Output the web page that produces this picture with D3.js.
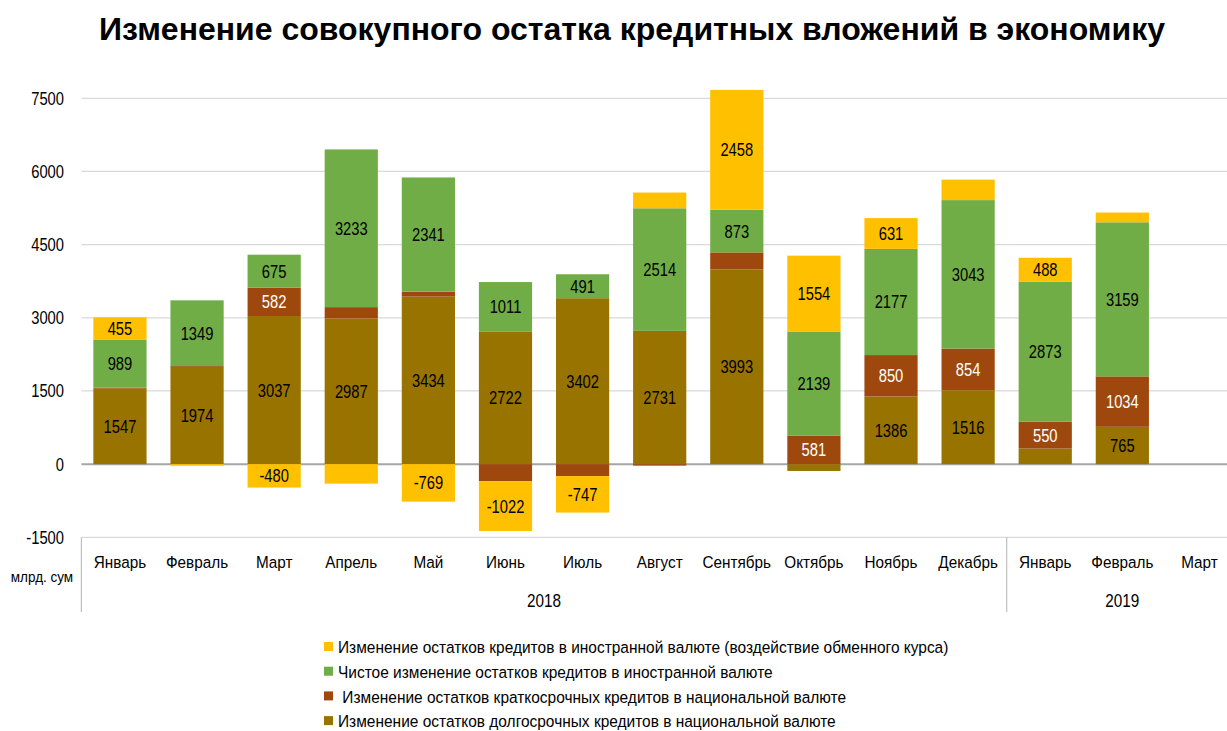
<!DOCTYPE html>
<html>
<head>
<meta charset="utf-8">
<script src="https://cdn.jsdelivr.net/npm/d3@7"></script>
<style>
  body { margin: 0; background: #fff; }
  svg text { font-family: "Liberation Sans", Arial, sans-serif; }
  .title { font-weight: bold; }
</style>
</head>
<body>
<svg id="chart" width="1227" height="731"></svg>
<script>
// months along the category axis
const months = ["Январь", "Февраль", "Март", "Апрель", "Май", "Июнь", "Июль", "Август",
  "Сентябрь", "Октябрь", "Ноябрь", "Декабрь", "Январь", "Февраль", "Март"];
const years = [{ label: "2018", from: 0, to: 12 }, { label: "2019", from: 12, to: 15 }];

// series values, bottom of the stack first
const longTerm  = [1547, 1974, 3037, 2987, 3434, 2722, 3402, 2731, 3993, -140, 1386, 1516, 320, 765, 0];
const shortTerm = [20, 35, 582, 232, 102, -348, -246, -30, 348, 581, 850, 854, 550, 1034, 0];
const netForeign = [989, 1349, 675, 3233, 2341, 1011, 491, 2514, 873, 2139, 2177, 3043, 2873, 3159, 0];
const exchangeEffect = [455, -30, -480, -400, -769, -1022, -747, 323, 2458, 1554, 631, 420, 488, 200, 0];

const yTicks = [-1500, 0, 1500, 3000, 4500, 6000, 7500];

const seriesNames = [
  "Изменение остатков долгосрочных кредитов в национальной валюте",
  " Изменение остатков краткосрочных кредитов в национальной валюте",
  "Чистое изменение остатков кредитов в иностранной валюте",
  "Изменение остатков кредитов в иностранной валюте (воздействие обменного курса)"
];
const seriesColors = ["#997300", "#9e480e", "#70ad47", "#ffc000"];
const labelColors = ["#000", "#fff", "#000", "#000"];

const svg = d3.select("#chart");

const x = d3.scaleBand().domain(d3.range(months.length)).range([81.4, 1238]).paddingInner(0.31).paddingOuter(0.155);
const y = d3.scaleLinear().domain([-1500, 7500]).range([537.3, 98.3]);

// no narrow font is installed, so squeeze the text horizontally
const place = (px, py, sx) => `translate(${px},${py}) scale(${sx},1)`;

// title
svg.append("text")
  .attr("class", "title")
  .attr("x", 632).attr("y", 40)
  .attr("text-anchor", "middle")
  .style("font-size", "32px")
  .text("Изменение совокупного остатка кредитных вложений в экономику");

// gridlines
svg.append("g").selectAll("line")
  .data(yTicks)
  .join("line")
  .attr("x1", 81.4).attr("x2", 1227)
  .attr("y1", d => y(d)).attr("y2", d => y(d))
  .attr("stroke", d => d === 0 ? "#a6a6a6" : "#d9d9d9")
  .attr("stroke-width", d => d === 0 ? 2 : 1.2);

// y tick labels
svg.append("g").selectAll("text")
  .data(yTicks)
  .join("text")
  .attr("transform", d => place(64, y(d), 0.82))
  .attr("dy", "0.36em")
  .attr("text-anchor", "end")
  .style("font-size", "18px")
  .attr("fill", "#000")
  .text(d => d);

svg.append("text")
  .attr("transform", place(42, 577, 0.9))
  .attr("dy", "0.36em")
  .attr("text-anchor", "middle")
  .style("font-size", "15px")
  .text("млрд. сум");

// stacked bars
const rows = months.map((m, i) => ({ i, s0: longTerm[i], s1: shortTerm[i], s2: netForeign[i], s3: exchangeEffect[i] }));
const stack = d3.stack().keys(["s0", "s1", "s2", "s3"]).offset(d3.stackOffsetDiverging);
const layers = stack(rows);

const layerG = svg.append("g").selectAll("g")
  .data(layers)
  .join("g")
  .attr("fill", (d, k) => seriesColors[k]);

layerG.selectAll("rect")
  .data(d => d)
  .join("rect")
  .attr("x", d => x(d.data.i))
  .attr("width", x.bandwidth())
  .attr("y", d => y(Math.max(d[0], d[1])))
  .attr("height", d => Math.abs(y(d[0]) - y(d[1])));

// data labels for segments large enough to hold them
layerG.each(function (layer, k) {
  d3.select(this).selectAll("text")
    .data(layer.filter(d => Math.abs(d[1] - d[0]) >= 450))
    .join("text")
    .attr("transform", d => place(x(d.data.i) + x.bandwidth() / 2, y((d[0] + d[1]) / 2), 0.82))
    .attr("dy", "0.36em")
    .attr("text-anchor", "middle")
    .attr("fill", labelColors[k])
    .style("font-size", "18px")
    .text(d => d.data["s" + k]);
});

// category axis
const axisG = svg.append("g");
axisG.selectAll("line.sep")
  .data([0, 12])
  .join("line")
  .attr("x1", d => x.step() * d + 81.4).attr("x2", d => x.step() * d + 81.4)
  .attr("y1", 537.3).attr("y2", 612)
  .attr("stroke", "#bfbfbf").attr("stroke-width", 1.2);

axisG.selectAll("text.month")
  .data(months)
  .join("text")
  .attr("transform", (d, i) => place(x(i) + x.bandwidth() / 2, 562, 0.9))
  .attr("dy", "0.36em")
  .attr("text-anchor", "middle")
  .style("font-size", "17px")
  .text(d => d);

axisG.selectAll("text.year")
  .data(years)
  .join("text")
  .attr("transform", d => place(81.4 + x.step() * (d.from + d.to) / 2, 601, 0.85))
  .attr("dy", "0.36em")
  .attr("text-anchor", "middle")
  .style("font-size", "18px")
  .text(d => d.label);

// legend, top entry is the last series
const legendOrder = [3, 2, 1, 0];
const legend = svg.append("g").selectAll("g")
  .data(legendOrder)
  .join("g")
  .attr("transform", (d, j) => `translate(324, ${647 + j * 24.7})`);
legend.append("rect")
  .attr("x", 0).attr("y", -5).attr("width", 9).attr("height", 9)
  .attr("fill", d => seriesColors[d]);
legend.append("text")
  .attr("transform", place(14, 0, 0.91))
  .attr("dy", "0.36em")
  .style("font-size", "17px")
  .style("white-space", "pre")
  .text(d => seriesNames[d]);
</script>
</body>
</html>
